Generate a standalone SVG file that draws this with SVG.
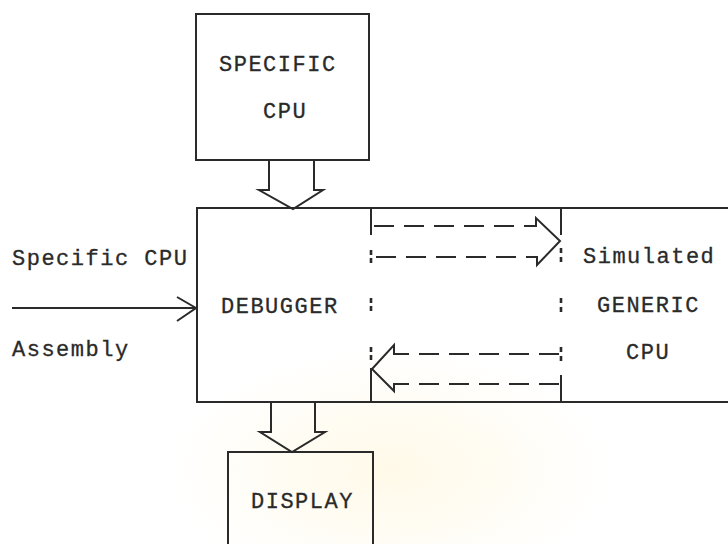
<svg xmlns="http://www.w3.org/2000/svg" width="728" height="544" viewBox="0 0 728 544">
<style>
.box{fill:none;stroke:#2a2a2a;stroke-width:2}
.ln{fill:none;stroke:#2a2a2a;stroke-width:2;stroke-linejoin:miter}
.dash{fill:none;stroke:#2a2a2a;stroke-width:2;stroke-dasharray:20 10}
.dot{fill:none;stroke:#2a2a2a;stroke-width:2.6}
text{font-family:"Liberation Mono","Courier New",monospace;font-size:22px;letter-spacing:1.5px;fill:#2a2a2a;stroke:#2a2a2a;stroke-width:0.3px}
</style>
<defs>
<radialGradient id="wm" cx="0.5" cy="0.5" r="0.5">
<stop offset="0" stop-color="#fff8e2" stop-opacity="0.8"/>
<stop offset="1" stop-color="#fff8e2" stop-opacity="0"/>
</radialGradient>
</defs>
<rect x="0" y="0" width="728" height="544" fill="#ffffff"/>
<ellipse cx="390" cy="470" rx="220" ry="120" fill="url(#wm)"/>

<g id="specific-cpu">
<rect class="box" x="196" y="14" width="173" height="146"/>
<text x="219" y="71">SPECIFIC</text>
<text x="263" y="118">CPU</text>
</g>

<g id="debugger">
<rect class="box" x="197" y="208" width="540" height="194"/>
<text x="221" y="313">DEBUGGER</text>
</g>

<g id="generic-cpu">
<line class="ln" x1="561" y1="208" x2="561" y2="235"/>
<line class="ln" x1="561" y1="375" x2="561" y2="402"/>
<path class="dot" d="M561 248v5M561 257v5M561 298v5M561 307v5M561 347v5M561 356v5"/>
<text x="583" y="263">Simulated</text>
<text x="597" y="312">GENERIC</text>
<text x="626" y="359">CPU</text>
</g>

<g id="display">
<path class="box" d="M228 548V452H373V548"/>
<text x="251" y="508">DISPLAY</text>
</g>

<g id="input-label">
<text x="12" y="265">Specific CPU</text>
<text x="12" y="356">Assembly</text>
</g>

<g id="connectors">
<path class="ln" d="M269 160V190H259L293 209L323 190H314V160"/>
<path class="ln" d="M271 402V432H260L292 452L325 432H315V402"/>
<line class="ln" x1="12" y1="308" x2="196" y2="308"/>
<path class="ln" d="M177 297L196 308L177 321"/>
<line class="ln" x1="371" y1="208" x2="371" y2="235"/>
<line class="ln" x1="371" y1="368" x2="371" y2="402"/>
<path class="dot" d="M371 250v5M371 258v5M371 298v5M371 306v5M371 347v5M371 355v5"/>
<path class="dash" d="M374 226H536"/>
<path class="dash" d="M376 257H536"/>
<path class="ln" d="M526 226H536V218L560 241L537 265V257H527"/>
<path class="dash" d="M559 354H394"/>
<path class="dash" d="M559 384H394"/>
<path class="ln" d="M404 354H394V345L372 369L394 391V384H404"/>
</g>
</svg>
